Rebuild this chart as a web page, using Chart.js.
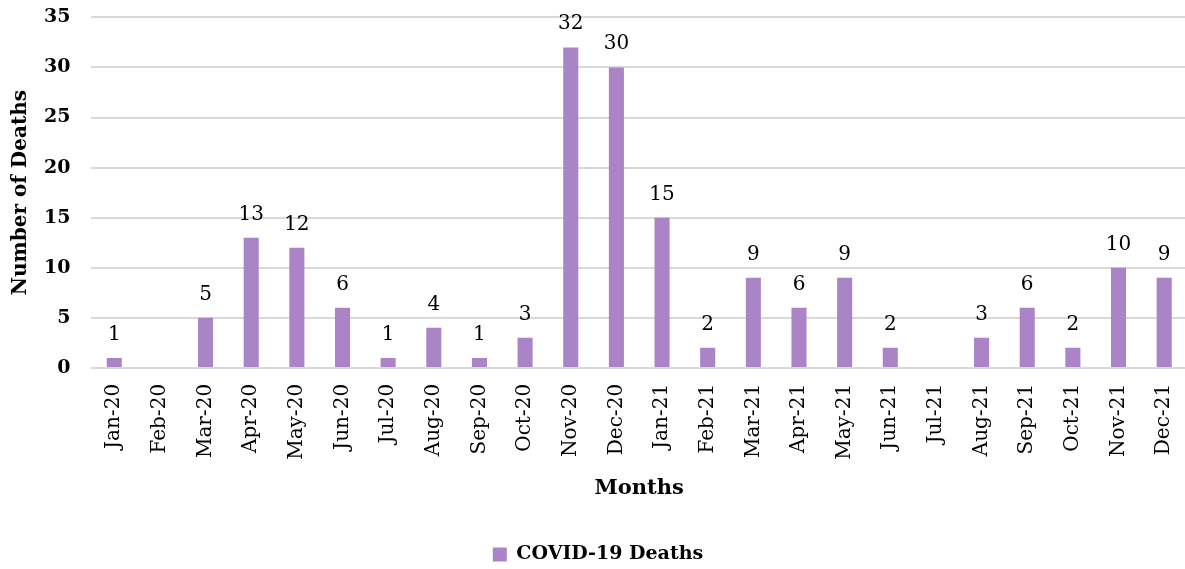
<!DOCTYPE html>
<html>
<head>
<meta charset="utf-8">
<script src="https://cdn.jsdelivr.net/npm/chart.js@4"></script>
<style>
  body { margin: 0; background: #fff; overflow: hidden; }
  #wrap { width: 1185px; height: 569px; overflow: hidden; }
  #deaths-chart { margin-top: -15px; display: block; }
</style>
</head>
<body>
<div id="wrap"><canvas id="deaths-chart" width="1200" height="589"></canvas></div>
<script>
const months = ["Jan-20", "Feb-20", "Mar-20", "Apr-20", "May-20", "Jun-20", "Jul-20", "Aug-20", "Sep-20", "Oct-20", "Nov-20", "Dec-20",
  "Jan-21", "Feb-21", "Mar-21", "Apr-21", "May-21", "Jun-21", "Jul-21", "Aug-21", "Sep-21", "Oct-21", "Nov-21", "Dec-21"];
const deaths = [1, 0, 5, 13, 12, 6, 1, 4, 1, 3, 32, 30, 15, 2, 9, 6, 9, 2, 0, 3, 6, 2, 10, 9];
const yTicks = [0, 5, 10, 15, 20, 25, 30, 35];

const serif = "'DejaVu Serif', 'Liberation Serif', serif";

// value labels above the bars (zeros left out, like the original)
const barLabels = {
  id: "barLabels",
  afterDatasetsDraw(chart) {
    const ctx = chart.ctx;
    const meta = chart.getDatasetMeta(0);
    ctx.save();
    ctx.font = "20px " + serif;
    ctx.fillStyle = "#000";
    ctx.textAlign = "center";
    ctx.textBaseline = "alphabetic";
    meta.data.forEach((bar, i) => {
      if (deaths[i] === 0) return;
      ctx.fillText(deaths[i], bar.x, bar.y - 18);
    });
    ctx.restore();
  },
};

new Chart(document.getElementById("deaths-chart"), {
  type: "bar",
  data: {
    labels: months,
    datasets: [
      {
        label: "COVID-19 Deaths",
        data: deaths,
        backgroundColor: "#AB84C7",
        borderWidth: 0,
        barPercentage: 0.66,
        categoryPercentage: 0.5,
      },
    ],
  },
  options: {
    responsive: false,
    animation: false,
    layout: { padding: { top: 0, right: 13, left: 9, bottom: 0 } },
    plugins: {
      legend: {
        display: true,
        position: "bottom",
        labels: {
          font: { family: serif, size: 19, weight: "bold" },
          color: "#000",
          boxWidth: 14,
          boxHeight: 14,
          padding: 10,
        },
      },
      tooltip: { enabled: false },
    },
    scales: {
      x: {
        grid: { display: false },
        border: { display: false },
        ticks: {
          color: "#000",
          font: { family: serif, size: 20 },
          minRotation: 90,
          maxRotation: 90,
          padding: 8,
        },
        title: {
          display: true,
          text: "Months",
          color: "#000",
          font: { family: serif, size: 21, weight: "bold" },
          padding: { top: 8, bottom: 34 },
        },
      },
      y: {
        min: 0,
        max: 35,
        afterBuildTicks(axis) {
          axis.ticks = yTicks.map((v) => ({ value: v }));
        },
        grid: { color: "#d9d9d9", lineWidth: 2, drawTicks: false },
        border: { display: false },
        ticks: {
          color: "#000",
          font: { family: serif, size: 19, weight: "bold" },
          padding: 21,
        },
        title: {
          display: true,
          text: "Number of Deaths",
          color: "#000",
          font: { family: serif, size: 20, weight: "bold" },
          padding: { top: 0, bottom: -10 },
        },
      },
    },
  },
  plugins: [barLabels],
});
</script>
</body>
</html>
